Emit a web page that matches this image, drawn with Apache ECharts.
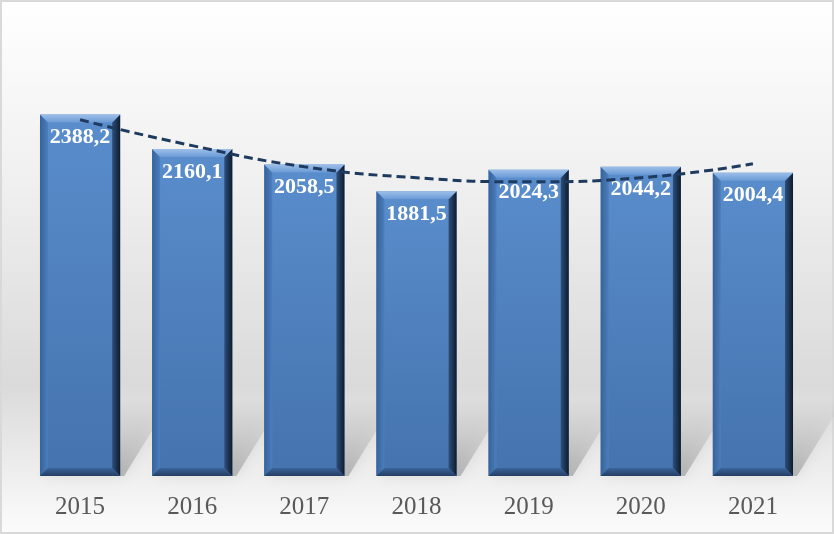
<!DOCTYPE html>
<html>
<head>
<meta charset="utf-8">
<script src="https://cdn.jsdelivr.net/npm/echarts@6/dist/echarts.min.js"></script>
<style>
html,body{margin:0;padding:0;background:#fff;}
#main{width:834px;height:534px;}
</style>
</head>
<body>
<div id="main"></div>
<script>
// ---- data ----
var categories = ['2015','2016','2017','2018','2019','2020','2021'];
var values = [2388.2, 2160.1, 2058.5, 1881.5, 2024.3, 2044.2, 2004.4];
// polynomial trend line
var trendValues = [2354, 2183, 2044, 1971, 1944, 1971, 2063];

function fmt(v){ return v.toFixed(1).replace('.', ','); }

var chart = echarts.init(document.getElementById('main'));

function renderBar(params, api){
  var idx = api.value(0);
  var val = api.value(1);
  var top = api.coord([idx, val]);
  var base = api.coord([idx, 0]);
  var w = api.size([1, 0])[0] * 0.715;
  var L = top[0] - w/2, R = top[0] + w/2, T = top[1], B = base[1];
  var bv = 8;
  var children = [];
  // floor shadow / reflection
  children.push({
    type:'polygon',
    shape:{points:[[L+4,B],[R+4,B],[R+52,B-78],[L+52,B-78]]},
    style:{fill:new echarts.graphic.LinearGradient(0,1,0,0,[
      {offset:0,color:'rgba(120,120,120,0.45)'},
      {offset:1,color:'rgba(160,160,160,0)'}]),
      shadowBlur:14, shadowColor:'rgba(120,120,120,0.4)'},
    silent:true, z2:0
  });
  // body
  children.push({
    type:'rect',
    shape:{x:L,y:T,width:w,height:B-T},
    style:{fill:new echarts.graphic.LinearGradient(0,0,0,1,[
      {offset:0,color:'#5a8dcc'},
      {offset:1,color:'#4473ae'}])},
    z2:1,
    textContent:{
      style:{text:fmt(val), fill:'#ffffff', fontFamily:'"Liberation Serif","Times New Roman",serif',
        fontWeight:'bold', fontSize:22}
    },
    textConfig:{position:'insideTop', distance:12}
  });
  // left bevel
  children.push({
    type:'polygon',
    shape:{points:[[L,T],[L+bv,T+bv],[L+bv,B-bv],[L,B]]},
    style:{fill:new echarts.graphic.LinearGradient(0,0,1,0,[
      {offset:0,color:'#36629a'},{offset:1,color:'#4b7ebc'}])},
    z2:2, silent:true
  });
  // right bevel
  children.push({
    type:'polygon',
    shape:{points:[[R,T],[R-bv,T+bv],[R-bv,B-bv],[R,B]]},
    style:{fill:new echarts.graphic.LinearGradient(0,0,1,0,[
      {offset:0,color:'#2e4f7c'},{offset:1,color:'#0f1b2c'}])},
    z2:2, silent:true
  });
  // bottom bevel
  children.push({
    type:'polygon',
    shape:{points:[[L,B],[L+bv,B-bv],[R-bv,B-bv],[R,B]]},
    style:{fill:new echarts.graphic.LinearGradient(0,0,0,1,[
      {offset:0,color:'#3a6499'},{offset:1,color:'#243f63'}])},
    z2:2, silent:true
  });
  // top bevel
  children.push({
    type:'polygon',
    shape:{points:[[L,T],[R,T],[R-bv,T+bv],[L+bv,T+bv]]},
    style:{fill:new echarts.graphic.LinearGradient(0,0,0,1,[
      {offset:0,color:'#9dbfe8'},{offset:1,color:'#6a9ad6'}])},
    z2:3, silent:true
  });
  return {type:'group', children:children};
}

var option = {
  animation:false,
  graphic:[{
    type:'rect', z:-10, silent:true,
    shape:{x:1,y:1,width:832,height:532},
    style:{
      fill:new echarts.graphic.LinearGradient(0,0,0,1,[
        {offset:0,color:'#ffffff'},
        {offset:0.35,color:'#efefef'},
        {offset:0.72,color:'#dadada'},
        {offset:0.86,color:'#ebebeb'},
        {offset:1,color:'#fcfcfc'}]),
      stroke:'#d9d9d9', lineWidth:2
    }
  }],
  grid:{left:24, right:25, top:22, bottom:58},
  xAxis:{
    type:'category',
    data:categories,
    axisLine:{show:false},
    axisTick:{show:false},
    axisLabel:{color:'#595959', fontFamily:'"Liberation Serif","Times New Roman",serif', fontSize:25, margin:19}
  },
  yAxis:{
    type:'value', min:0, max:3000,
    show:false,
    splitLine:{show:false}
  },
  series:[
    {
      type:'custom',
      renderItem:renderBar,
      data:values.map(function(v,i){return [i,v];}),
      encode:{x:0,y:1},
      z:2
    },
    {
      type:'line',
      data:trendValues,
      smooth:true,
      symbol:'none',
      lineStyle:{color:'#1f3a5f', width:3, type:[9,5]},
      z:5
    }
  ]
};
chart.setOption(option);
</script>
</body>
</html>
